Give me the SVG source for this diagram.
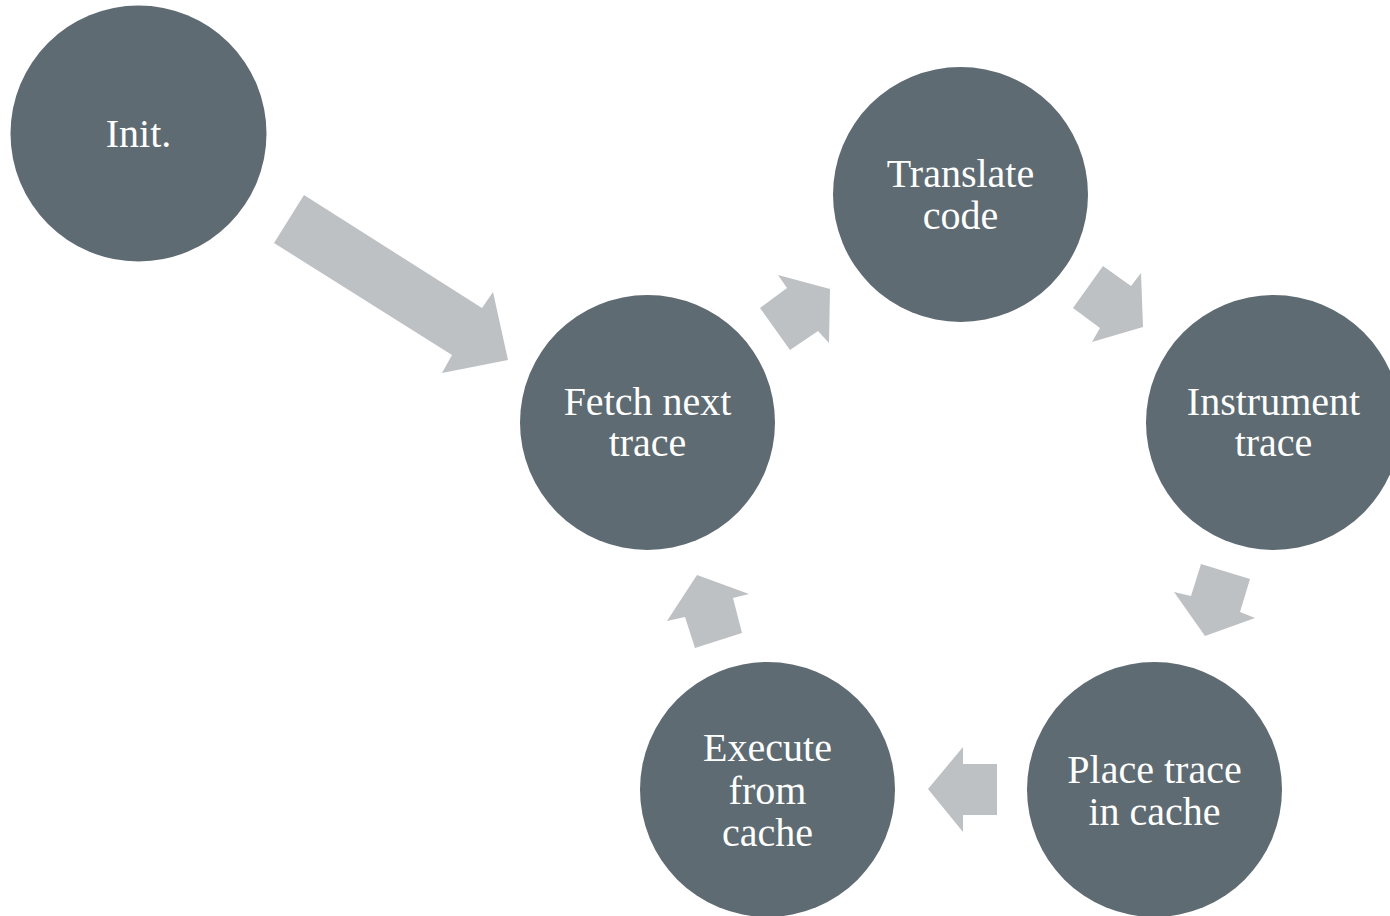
<svg xmlns="http://www.w3.org/2000/svg" width="1390" height="916" viewBox="0 0 1390 916">
  <style>
    .node circle { fill: #5e6b72; }
    .node text { fill: #ffffff; font-family: "Liberation Serif", "Times New Roman", serif; font-size: 40px; text-anchor: middle; }
    .arrow { fill: #bdc1c4; }
  </style>
  <rect width="1390" height="916" fill="#ffffff"/>

  <!-- connectors: block arrows between steps -->
  <g id="connectors">
    <polygon class="arrow" points="304,195 482,308 493,292 508,360 442,373 452,355 274,243"/>
    <polygon class="arrow" points="778,275 830,289 829,343 818,331 790,350 760,308 787,288"/>
    <polygon class="arrow" points="1103,266 1131,286 1141,273 1143,327 1092,342 1100,328 1073,308"/>
    <polygon class="arrow" points="1201,564 1250,579 1240,612 1255,618 1205,636 1174,592 1191,596"/>
    <polygon class="arrow" points="963,747 963,764 997,764 997,815 963,815 963,832 928,789"/>
    <polygon class="arrow" points="697,575 749,594 733,598 742,633 695,648 685,617 667,621"/>
  </g>

  <g id="init" class="node">
    <circle cx="138.5" cy="133.5" r="128"/>
    <text x="138.5" y="147">Init.</text>
  </g>

  <g id="fetch" class="node">
    <circle cx="647.5" cy="422.5" r="127.5"/>
    <text x="647.5" y="415">Fetch next</text>
    <text x="647.5" y="456">trace</text>
  </g>

  <g id="translate" class="node">
    <circle cx="960.5" cy="194.5" r="127.5"/>
    <text x="960.5" y="187">Translate</text>
    <text x="960.5" y="229">code</text>
  </g>

  <g id="instrument" class="node">
    <circle cx="1273.5" cy="422.5" r="127.5"/>
    <text x="1273.5" y="415">Instrument</text>
    <text x="1273.5" y="456">trace</text>
  </g>

  <g id="place" class="node">
    <circle cx="1154.5" cy="789.5" r="127.5"/>
    <text x="1154.5" y="783">Place trace</text>
    <text x="1154.5" y="825">in cache</text>
  </g>

  <g id="execute" class="node">
    <circle cx="767.5" cy="789.5" r="127.5"/>
    <text x="767.5" y="761">Execute</text>
    <text x="767.5" y="804">from</text>
    <text x="767.5" y="846">cache</text>
  </g>
</svg>
